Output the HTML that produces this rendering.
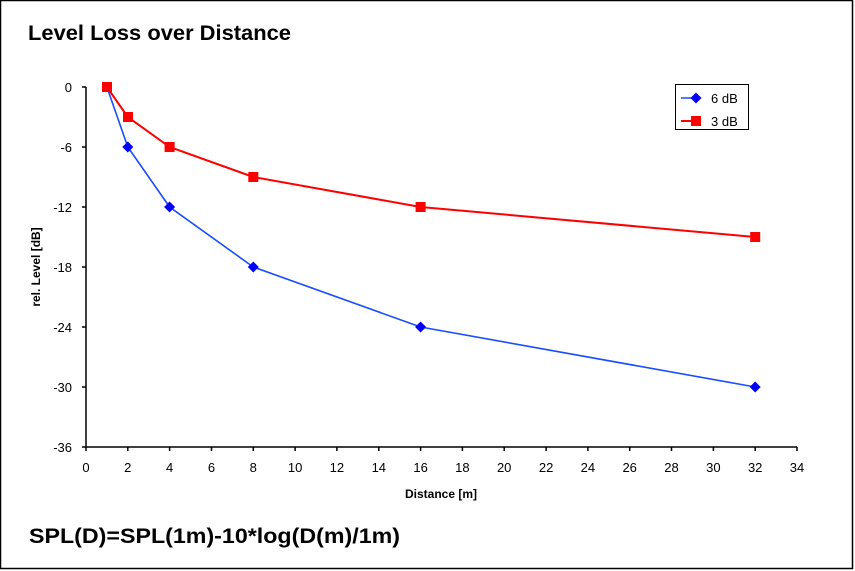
<!DOCTYPE html>
<html><head><meta charset="utf-8"><style>
html,body{margin:0;padding:0;background:#fff}
svg{display:block}
text{font-family:"Liberation Sans",sans-serif}
</style></head><body>
<svg width="855" height="571" viewBox="0 0 855 571" xmlns="http://www.w3.org/2000/svg">
<rect x="0.5" y="0.5" width="852" height="568" fill="#fff" stroke="#000" stroke-width="1.5"/>
<text x="28" y="40" font-size="21" font-weight="bold" textLength="263" lengthAdjust="spacingAndGlyphs">Level Loss over Distance</text>
<g stroke="#000" stroke-width="1.5" fill="none">
<line x1="86" y1="87" x2="86" y2="447"/>
<line x1="86" y1="447" x2="797" y2="447"/>
<path d="M82 87h4M82 147h4M82 207h4M82 267h4M82 327h4M82 387h4M82 447h4"/>
<path d="M86 447v4M127.8 447v4M169.6 447v4M211.5 447v4M253.3 447v4M295.1 447v4M336.9 447v4M378.8 447v4M420.6 447v4M462.4 447v4M504.2 447v4M546.1 447v4M587.9 447v4M629.7 447v4M671.5 447v4M713.4 447v4M755.2 447v4M797 447v4"/>
</g>
<g font-size="13" text-anchor="end">
<text x="72" y="92">0</text><text x="72" y="152">-6</text><text x="72" y="212">-12</text>
<text x="72" y="272">-18</text><text x="72" y="332">-24</text><text x="72" y="392">-30</text><text x="72" y="452">-36</text>
</g>
<g font-size="13" text-anchor="middle">
<text x="86" y="472">0</text><text x="127.8" y="472">2</text><text x="169.6" y="472">4</text><text x="211.5" y="472">6</text>
<text x="253.3" y="472">8</text><text x="295.1" y="472">10</text><text x="336.9" y="472">12</text><text x="378.8" y="472">14</text>
<text x="420.6" y="472">16</text><text x="462.4" y="472">18</text><text x="504.2" y="472">20</text><text x="546.1" y="472">22</text>
<text x="587.9" y="472">24</text><text x="629.7" y="472">26</text><text x="671.5" y="472">28</text><text x="713.4" y="472">30</text>
<text x="755.2" y="472">32</text><text x="797" y="472">34</text>
</g>
<text x="441" y="498" font-size="12" font-weight="bold" text-anchor="middle">Distance [m]</text>
<text transform="translate(40,267) rotate(-90)" font-size="12" font-weight="bold" text-anchor="middle">rel. Level [dB]</text>
<polyline points="106.9,87 127.8,147 169.6,207 253.3,267 420.6,327 755.2,387" fill="none" stroke="#1a4dff" stroke-width="1.6"/>
<polyline points="106.9,87 127.8,117 169.6,147 253.3,177 420.6,207 755.2,237" fill="none" stroke="#ff0000" stroke-width="2"/>
<g fill="#ff0000">
<rect x="102" y="82" width="10" height="10"/><rect x="123" y="112" width="10" height="10"/>
<rect x="164.6" y="142" width="10" height="10"/><rect x="248.3" y="172" width="10" height="10"/>
<rect x="415.6" y="202" width="10" height="10"/><rect x="750.2" y="232" width="10" height="10"/>
</g>
<g fill="#0000ff">
<path d="M127.8 141.5l5.5 5.5-5.5 5.5-5.5-5.5z"/><path d="M169.6 201.5l5.5 5.5-5.5 5.5-5.5-5.5z"/>
<path d="M253.3 261.5l5.5 5.5-5.5 5.5-5.5-5.5z"/><path d="M420.6 321.5l5.5 5.5-5.5 5.5-5.5-5.5z"/><path d="M755.2 381.5l5.5 5.5-5.5 5.5-5.5-5.5z"/>
</g>
<rect x="675.5" y="84.5" width="73" height="45" fill="#fff" stroke="#000" stroke-width="1"/>
<line x1="681" y1="98" x2="699" y2="98" stroke="#1a4dff" stroke-width="1.6"/>
<path d="M696 92.5l5.5 5.5-5.5 5.5-5.5-5.5z" fill="#0000ff"/>
<text x="711" y="103" font-size="13">6 dB</text>
<line x1="681" y1="121" x2="699" y2="121" stroke="#ff0000" stroke-width="2"/>
<rect x="691" y="116" width="10" height="10" fill="#ff0000"/>
<text x="711" y="126" font-size="13">3 dB</text>
<text x="29" y="543" font-size="21" font-weight="bold" textLength="371" lengthAdjust="spacingAndGlyphs">SPL(D)=SPL(1m)-10*log(D(m)/1m)</text>
</svg>
</body></html>
